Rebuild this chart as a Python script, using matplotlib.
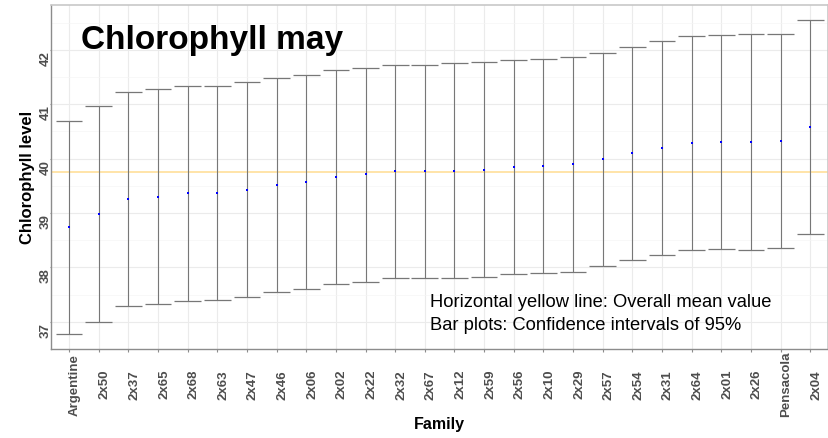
import matplotlib
matplotlib.use('Agg')
import matplotlib.pyplot as plt
import numpy as np

families = ['Argentine', '2x50', '2x37', '2x65', '2x68', '2x63', '2x47', '2x46',
            '2x06', '2x02', '2x22', '2x32', '2x67', '2x12', '2x59', '2x56',
            '2x10', '2x29', '2x57', '2x54', '2x31', '2x64', '2x01', '2x26',
            'Pensacola', '2x04']

means = [38.74, 38.98, 39.26, 39.29, 39.36, 39.36, 39.42, 39.52,
         39.57, 39.66, 39.71, 39.77, 39.77, 39.78, 39.80, 39.85,
         39.87, 39.90, 39.99, 40.10, 40.20, 40.28, 40.30, 40.30,
         40.33, 40.58]

lower = [36.77, 36.99, 37.29, 37.33, 37.39, 37.40, 37.46, 37.55,
         37.61, 37.70, 37.74, 37.80, 37.80, 37.80, 37.83, 37.88,
         37.90, 37.92, 38.02, 38.14, 38.23, 38.32, 38.34, 38.32,
         38.36, 38.61]

upper = [40.70, 40.97, 41.22, 41.28, 41.33, 41.33, 41.40, 41.49,
         41.54, 41.63, 41.66, 41.73, 41.73, 41.76, 41.77, 41.81,
         41.84, 41.86, 41.95, 42.06, 42.17, 42.25, 42.27, 42.30,
         42.30, 42.54]

overall_mean = 39.76

plt.rcParams['font.family'] = ['Liberation Sans', 'DejaVu Sans']

fig = plt.figure(figsize=(8.29, 4.39), dpi=100)
ax = fig.add_axes([0.0619, 0.2027, 0.9369, 0.7843])
x = np.arange(len(families))

ax.axhline(overall_mean, color='#FFE4A8', lw=1.4, zorder=1)
ax.vlines(x, lower, upper, color='#777777', lw=0.8, zorder=2)
ax.hlines(lower, x - 0.45, x + 0.45, color='#777777', lw=0.9, zorder=2)
ax.hlines(upper, x - 0.45, x + 0.45, color='#777777', lw=0.9, zorder=2)
ax.plot(x, means, 's', color='#0000FF', ms=2, mew=0, zorder=3)

ax.set_xlim(-0.6, 25.6)
ax.set_ylim(36.5, 42.83)

ax.set_xticks(x)
ax.set_xticklabels(families, rotation=90, ha='left', va='center',
                   fontsize=9.5, fontweight='bold', color='#4D4D4D')
ax.set_yticks(np.arange(37, 43))
ax.set_yticklabels([str(v) for v in range(37, 43)], rotation=90, ha='right', va='top',
                   fontsize=9.5, fontweight='bold', color='#4D4D4D')
ax.set_yticks(np.arange(36.5, 43, 1), minor=True)

ax.grid(which='major', color='#EBEBEB', lw=0.8)
ax.grid(which='minor', axis='y', color='#F5F5F5', lw=0.5)
ax.set_axisbelow(True)

ax.tick_params(axis='x', length=2.5, color='#8C8C8C', pad=22.5)
ax.tick_params(axis='y', length=1, color='#8C8C8C', pad=-1)
ax.tick_params(which='minor', length=0)

for s in ['top', 'right']:
    ax.spines[s].set_color('#C8C8C8')
    ax.spines[s].set_linewidth(1.2)
for s in ['left', 'bottom']:
    ax.spines[s].set_color('#8C8C8C')
    ax.spines[s].set_linewidth(1.0)

ax.text(0.4, 42.03, 'Chlorophyll may', fontsize=24, fontweight='bold', va='baseline', ha='left')
ax.text(12.19, 37.29, 'Horizontal yellow line: Overall mean value', fontsize=13.2, va='baseline')
ax.text(12.19, 36.86, 'Bar plots: Confidence intervals of 95%', fontsize=13.2, va='baseline')

ax.set_ylabel('Chlorophyll level', fontsize=12, fontweight='bold')
ax.yaxis.set_label_coords(-0.0215, 0.5)
ax.set_xlabel('Family', fontsize=11.5, fontweight='bold')
ax.xaxis.set_label_coords(0.5, -0.196)

fig.savefig('out.png', dpi=100)
